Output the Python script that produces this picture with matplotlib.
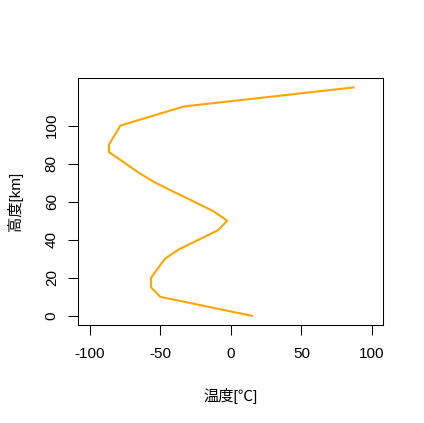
import matplotlib
matplotlib.use("Agg")
import matplotlib.pyplot as plt

altitude_km = [0, 10, 15, 20, 25, 30, 35, 40, 45, 50, 55, 60, 65, 70, 75, 80, 86, 90, 100, 110, 120]
temperature_c = [15, -50, -56.5, -56.5, -51.6, -46.6, -36.6, -22.8, -9.0, -2.5, -12.4, -26.1,
                 -39.9, -53.6, -64.8, -74.5, -86.3, -86.3, -78.1, -33.2, 86.9]
x_ticks = [-100, -50, 0, 50, 100]
y_ticks = [0, 20, 40, 60, 80, 100]

fonts = ['Liberation Sans', 'Noto Sans CJK JP', 'DejaVu Sans']
plt.rcParams['font.family'] = fonts
plt.rcParams['axes.unicode_minus'] = False

fig = plt.figure(figsize=(4.24, 4.23), dpi=100)
ax = fig.add_axes([0.1847, 0.2317, 0.904 - 0.1847, 0.8149 - 0.2317])
ax.plot(temperature_c, altitude_km, color='#FFA500', linewidth=1.5)
ax.set_xlim(-108, 108)
ax.set_ylim(-4.8, 124.8)
ax.set_xticks(x_ticks)
ax.set_yticks(y_ticks)
ax.set_yticklabels([str(v) for v in y_ticks], rotation=90, va='center')
ax.tick_params(direction='out', length=7, width=0.75, labelsize=11, colors='black')
ax.tick_params(axis='x', pad=9)
ax.tick_params(axis='y', pad=7)
for s in ax.spines.values():
    s.set_linewidth(0.75)
ax.set_xlabel('温度[℃]', fontsize=11, labelpad=19)
ax.set_ylabel('高度[km]', fontsize=11, labelpad=16)
fig.savefig('out.png', dpi=100)
